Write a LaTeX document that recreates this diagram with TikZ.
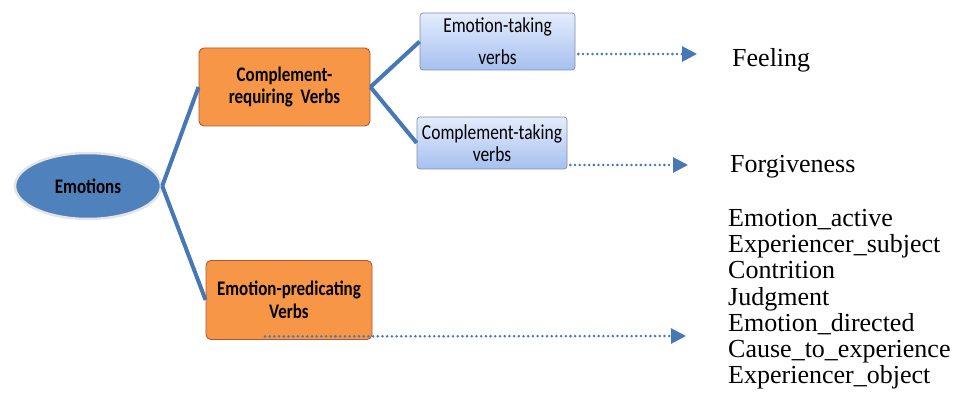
\documentclass[tikz,border=0pt]{standalone}
\usepackage{fontspec}
\setmainfont{Liberation Serif}
\newfontfamily\boxfont[FakeStretch=0.82]{Carlito}
\usetikzlibrary{arrows.meta, shapes.geometric}

\definecolor{linkblue}{RGB}{70,120,182}
\definecolor{ellblue}{RGB}{79,129,189}
\definecolor{boxorange}{RGB}{247,150,70}
\definecolor{orangeedge}{RGB}{176,88,52}
\definecolor{boxtop}{RGB}{228,236,252}
\definecolor{boxbottom}{RGB}{166,192,240}
\definecolor{boxedge}{RGB}{128,142,168}

\begin{document}
\begin{tikzpicture}[x=1pt, y=-1pt]
				\tikzstyle{verbbox}=[draw=orangeedge, fill=boxorange, line width=0.9pt, rounded corners=5pt, align=center, inner sep=0pt, font=\boxfont\bfseries\fontsize{20.7}{22.5}\selectfont]
				\tikzstyle{subbox}=[draw=boxedge, top color=boxtop, bottom color=boxbottom, line width=0.7pt, rounded corners=3pt, align=center, inner sep=0pt, font=\boxfont\fontsize{21.3}{22}\selectfont]
				\tikzstyle{link}=[draw=linkblue, line width=4pt]
				\tikzstyle{dots}=[linkblue, line width=2.8pt, line cap=round, dash pattern=on 0pt off 4.7pt, -{Triangle[length=15pt, width=15pt]}]
				\tikzstyle{frame}=[font=\fontsize{26}{26.2}\selectfont, inner sep=0pt]

				\useasboundingbox (0,0) rectangle (959,417);
				\node (emo) [ellipse, draw=gray!20, line width=2.5pt, fill=ellblue, minimum width=146, minimum height=66, inner sep=0pt, font=\boxfont\bfseries\fontsize{20.7}{20}\selectfont] at (88,186) {Emotions};
				\node (crv) [verbbox, minimum width=171, minimum height=78] at (284.5,87) {Complement-\\requiring\ \ Verbs};
				\node (epv) [verbbox, minimum width=166, minimum height=79] at (289,300) {Emotion-predicating\\Verbs};
				\node (etv) [subbox, minimum width=155, minimum height=57, font=\boxfont\fontsize{21.3}{32}\selectfont] at (497.5,41.5) {Emotion-taking\\verbs};
				\node (ctv) [subbox, minimum width=150, minimum height=52] at (492,143) {Complement-taking\\verbs};
				\draw[link] (emo.east) -- (crv.west);
				\draw[link] (emo.east) -- (epv.west);
				\draw[link] (crv.east) -- (etv.west);
				\draw[link] (crv.east) -- (ctv.west);

				\node (feel) [frame, anchor=base west] at (732,67) {Feeling};
				\node (forg) [frame, anchor=base west] at (730,172) {Forgiveness};
				\node (frames) [frame, anchor=north west, align=left] at (728,209) {Emotion\_active\\Experiencer\_subject\\Contrition\\Judgment\\Emotion\_directed\\Cause\_to\_experience\\Experiencer\_object};
				\coordinate (tip1) at (697,54);
				\coordinate (tip2) at (688,165);
				\coordinate (tip3) at (686,336);
				\draw[dots] ([xshift=3pt, yshift=-12.5pt]etv.east) -- (tip1);
				\draw[dots] ([xshift=3pt, yshift=-22pt]ctv.east) -- (tip2);
				\draw[dots] ([xshift=-24pt, yshift=3.5pt]epv.south) -- (tip3);
			\end{tikzpicture}
\end{document}
